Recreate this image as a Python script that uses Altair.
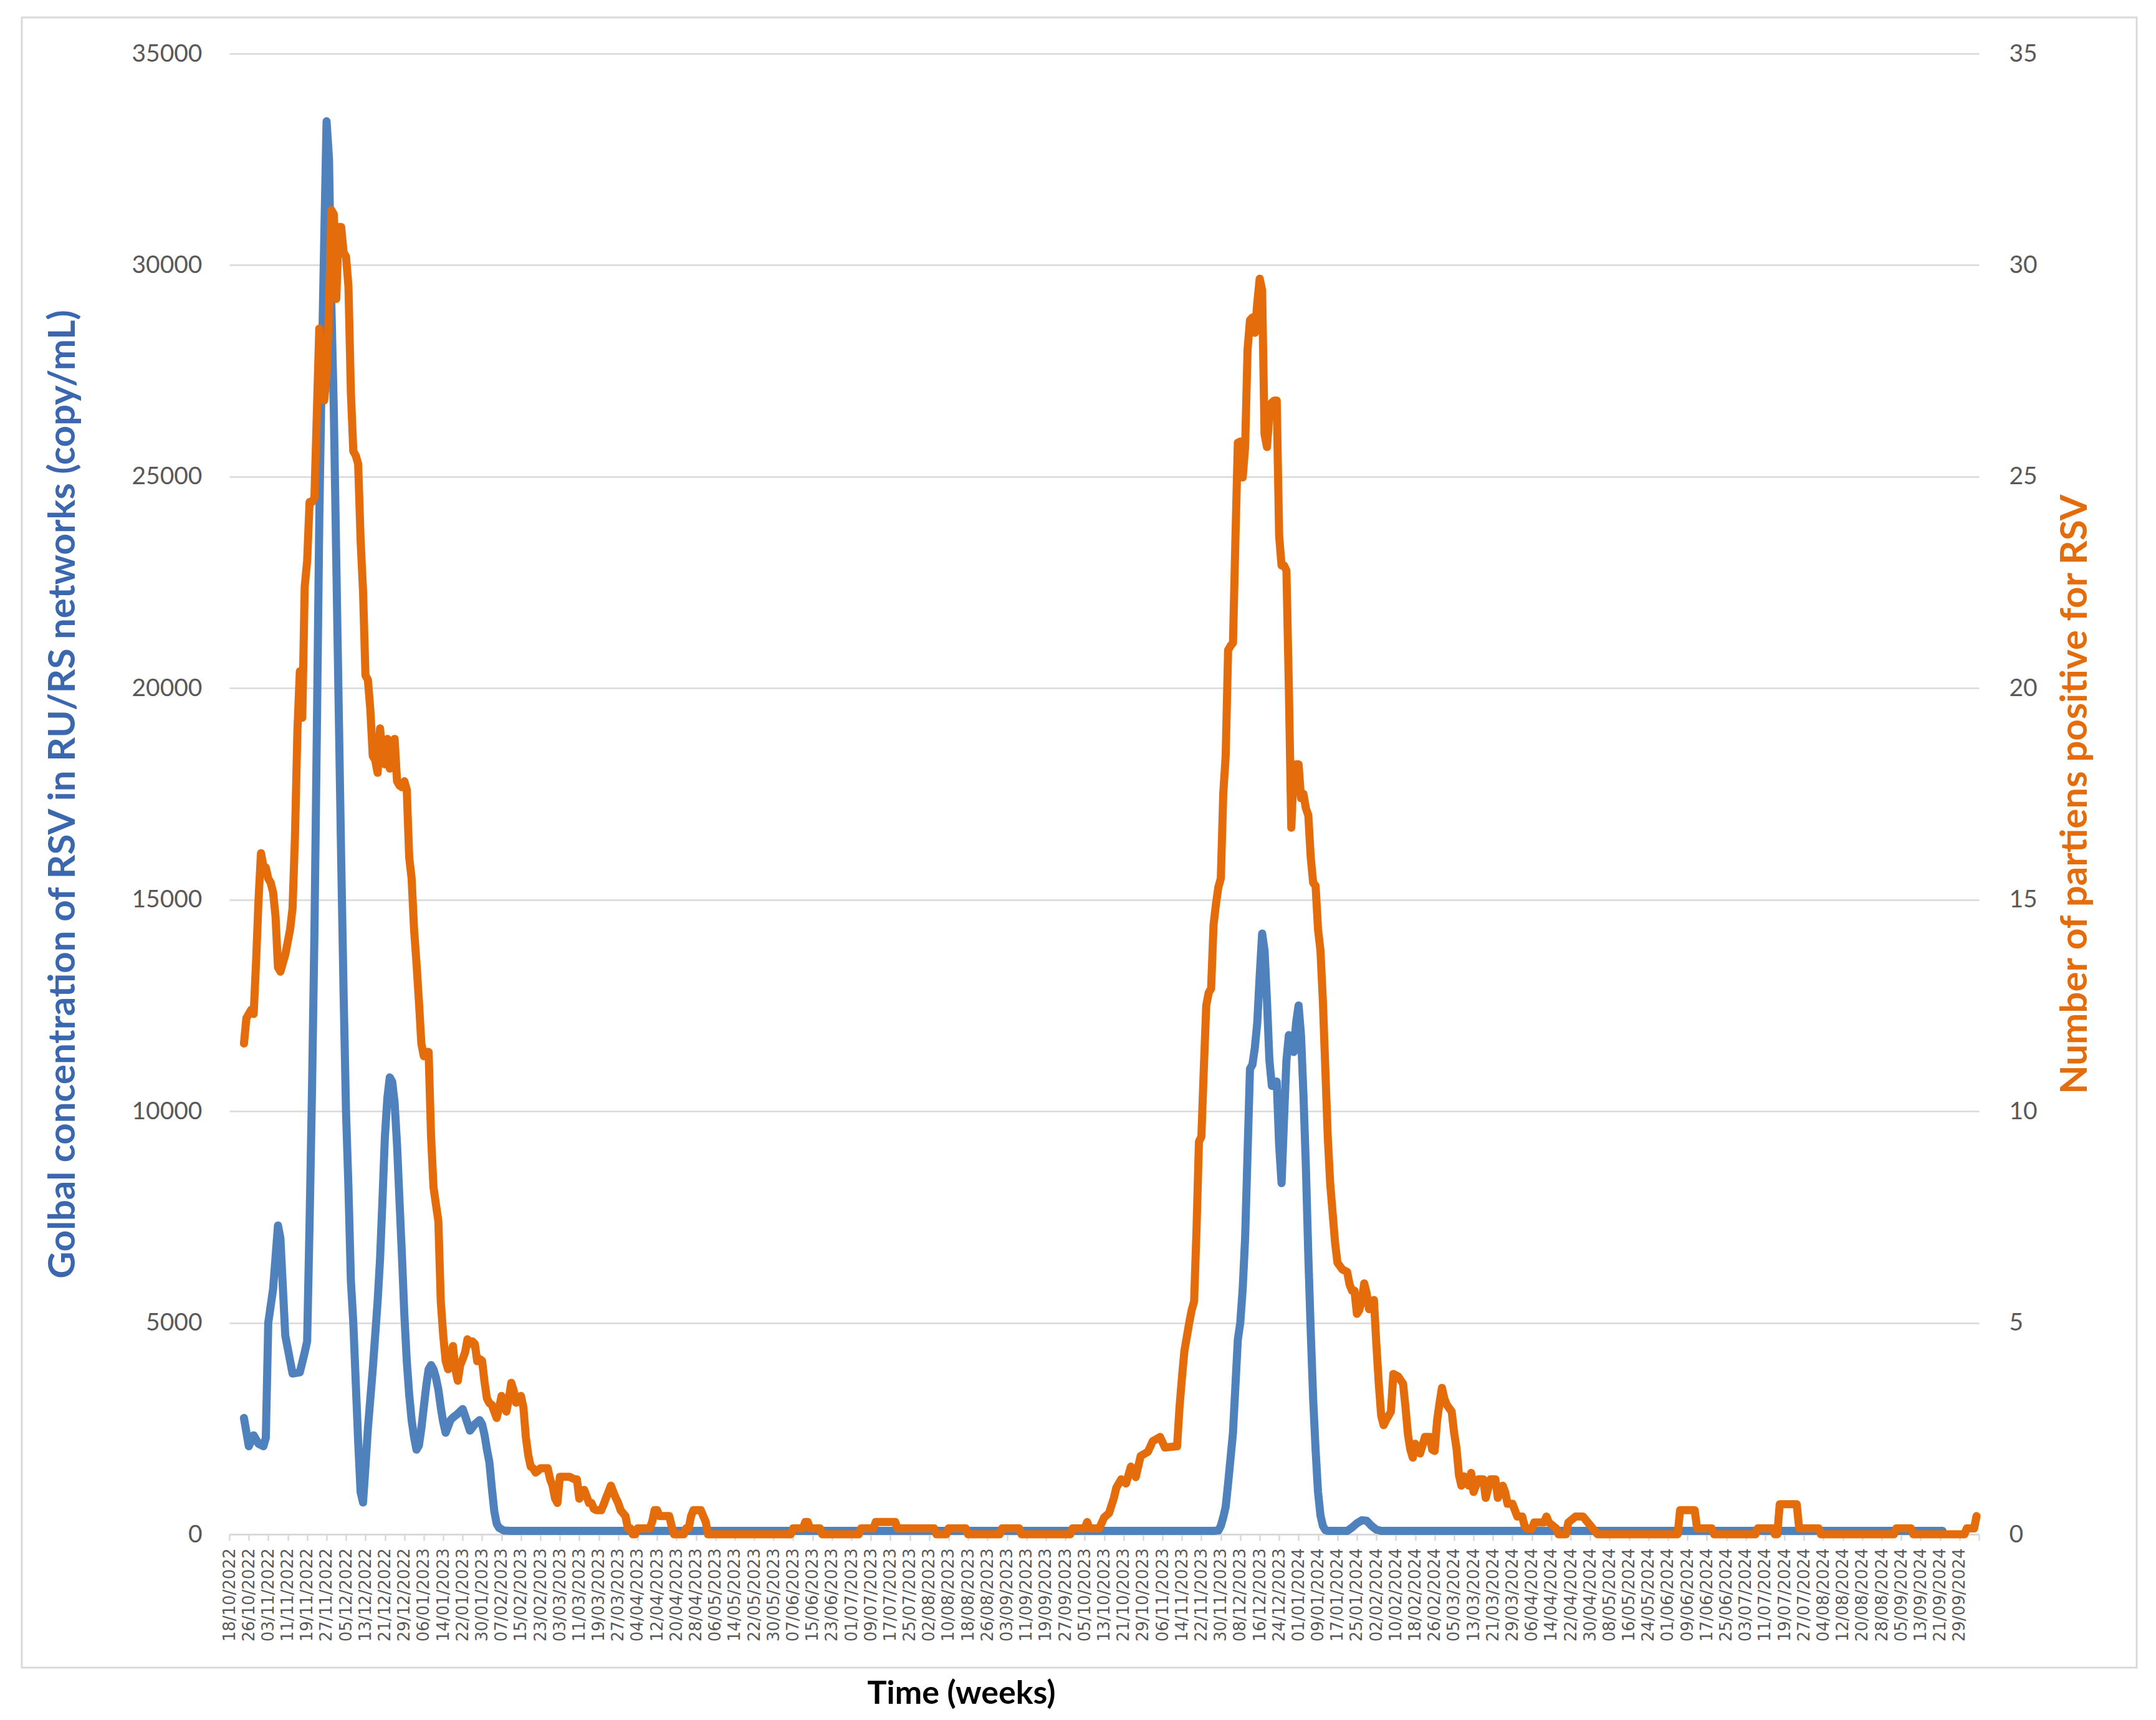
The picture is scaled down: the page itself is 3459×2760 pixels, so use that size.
import altair as alt
import pandas as pd
from datetime import datetime, timedelta, timezone

START = datetime(2022, 10, 18, tzinfo=timezone.utc)

# Blue series: global RSV concentration (copy/mL), day offset from 18/10/2022
blue_day = [6, 8, 10, 12, 14, 15, 16, 18, 20, 21, 23, 26, 29, 31, 32, 33, 34, 35, 36, 37,
            38, 39, 40, 41, 42, 43, 44, 45, 46, 47, 48, 49, 50, 51, 52, 53, 54, 55, 56, 57,
            58, 59, 60, 61, 62, 63, 64, 65, 66, 67, 68, 69, 70, 71, 72, 73, 74, 75, 76, 77,
            78, 79, 80, 81, 82, 83, 84, 85, 86, 87, 88, 89, 90, 91, 92, 94, 96, 97, 99, 101,
            103, 104, 105, 106, 107, 108, 109, 110, 111, 113, 116,
            405, 407, 408, 409, 410, 411, 412, 413, 414, 415, 416, 417, 418, 419, 420, 421,
            422, 423, 424, 425, 426, 427, 428, 429, 430, 431, 432, 433, 434, 435, 436, 437,
            438, 439, 440, 441, 442, 443, 444, 445, 446, 447, 448, 449, 450, 451, 452, 460,
            462, 464, 466, 468, 470, 472, 474, 705]
blue_val = [2750, 2080, 2340, 2140, 2080, 2280, 5000, 5800, 7300, 7000, 4700, 3800, 3830, 4300, 4560, 7350, 10500, 14200, 19000, 24000,
            27500, 30500, 33400, 32500, 29000, 26500, 23000, 19500, 16000, 12800, 10000, 8200, 6000, 5000, 3600, 2200, 1000, 750, 1600, 2500,
            3200, 3900, 4700, 5500, 6500, 7900, 9400, 10300, 10800, 10700, 10200, 9200, 7900, 6600, 5200, 4100, 3300, 2700, 2300, 2000,
            2100, 2500, 3000, 3500, 3900, 4000, 3900, 3700, 3420, 3000, 2650, 2400, 2550, 2700, 2760, 2850, 2960, 2800, 2450, 2600,
            2700, 2600, 2350, 2000, 1700, 1100, 550, 250, 150, 90, 80,
            80, 90, 200, 400, 650, 1200, 1800, 2400, 3500, 4600, 5000, 5800, 7000, 9000, 11000, 11100,
            11500, 12100, 13200, 14200, 13800, 12600, 11200, 10600, 10600, 10700, 9200, 8300, 9800, 11200, 11800, 11500,
            11400, 12100, 12500, 11800, 10400, 8700, 6600, 4800, 3200, 2000, 1000, 450, 200, 100, 80, 80,
            160, 260, 330, 320, 200, 110, 80, 80]

# Orange series: number of patients positive for RSV
orange_day = [6, 7, 9, 10, 11, 12, 13, 14, 15, 16, 17, 18, 19, 20, 21, 22, 23, 24, 25, 26,
              27, 28, 29, 30, 31, 32, 33, 34, 35, 36, 37, 38, 39, 40, 41, 42, 43, 44, 45, 46,
              47, 48, 49, 50, 51, 52, 53, 54, 55, 56, 57, 58, 59, 60, 61, 62, 63, 64, 65, 66,
              67, 68, 69, 70, 71, 72, 73, 74, 75, 76, 77, 78, 79, 80, 81, 82, 83, 84, 85, 86,
              87, 88, 89, 90, 91, 92, 93, 94, 95, 96, 97, 98, 99, 100, 101, 102, 103, 104, 105, 106,
              107, 108, 109, 110, 111, 112, 113, 114, 115, 116, 117, 118, 119, 120, 121, 122, 123, 124, 125, 126,
              127, 128, 131, 132, 133, 134, 135, 136, 140, 142, 143, 144, 145, 146, 147, 148, 149, 150, 151, 153,
              154, 155, 156, 157, 158, 159, 160, 161, 162, 163, 164, 165, 166, 167, 168, 173, 174, 175, 176, 177,
              181, 182, 183, 187, 188, 189, 190, 191, 194, 195, 196, 197, 231, 232, 236, 237, 238, 239, 243, 244,
              259, 260, 265, 266, 274, 275, 290, 291, 295, 296, 303, 304, 317, 318, 325, 326, 346, 347, 352, 353,
              354, 358, 360, 362, 364, 365, 367, 369, 371, 373, 375, 378, 380, 383, 385, 390, 391, 392, 393, 395,
              396, 397, 398, 399, 400, 401, 402, 403, 404, 405, 406, 407, 408, 409, 410, 411, 412, 413, 414, 415,
              416, 417, 418, 419, 420, 421, 422, 423, 424, 425, 426, 427, 428, 429, 430, 431, 432, 433, 434, 435,
              436, 437, 438, 439, 440, 441, 442, 443, 444, 445, 446, 447, 448, 449, 450, 451, 452, 453, 454, 455,
              456, 458, 460, 461, 462, 463, 464, 465, 466, 467, 468, 469, 470, 471, 472, 473, 474, 475, 476, 477,
              478, 479, 481, 483, 484, 485, 486, 487, 488, 490, 491, 492, 494, 495, 496, 497, 498, 499, 500, 501,
              503, 504, 505, 506, 507, 508, 509, 510, 511, 512, 514, 516, 517, 519, 521, 522, 524, 525, 526, 528,
              530, 532, 533, 534, 536, 537, 541, 542, 543, 546, 547, 550, 551, 554, 557, 559, 561, 563, 596, 597,
              603, 604, 610, 611, 628, 629, 635, 636, 637, 638, 645, 646, 654, 655, 685, 686, 692, 693, 714, 715,
              718, 719]
orange_val = [11.6, 12.2, 12.4, 12.3, 13.55, 15.0, 16.1, 15.8, 15.76, 15.5, 15.4, 15.17, 14.6, 13.4, 13.3, 13.5, 13.7, 14.0, 14.3, 14.8,
              16.5, 19.0, 20.4, 19.3, 22.4, 23.0, 24.4, 24.4, 24.5, 26.5, 28.5, 27.0, 26.8, 27.4, 29.0, 31.3, 31.2, 29.2, 30.9, 30.9,
              30.3, 30.2, 29.5, 27.0, 25.6, 25.5, 25.3, 23.5, 22.3, 20.3, 20.2, 19.5, 18.4, 18.3, 18.0, 19.05, 18.4, 18.2, 18.8, 18.1,
              18.5, 18.8, 17.8, 17.7, 17.66, 17.8, 17.6, 16.0, 15.5, 14.3, 13.5, 12.6, 11.6, 11.3, 11.4, 11.4, 9.4, 8.2, 7.8, 7.4,
              5.5, 4.7, 4.1, 3.9, 4.2, 4.45, 3.9, 3.63, 4.0, 4.14, 4.3, 4.61, 4.5, 4.56, 4.5, 4.09, 4.14, 4.1, 3.6, 3.21,
              3.1, 3.06, 2.9, 2.75, 3.0, 3.27, 3.1, 2.9, 3.2, 3.58, 3.4, 3.11, 3.2, 3.27, 3.0, 2.3, 1.87, 1.6, 1.56, 1.46,
              1.5, 1.56, 1.56, 1.3, 1.15, 0.85, 0.74, 1.36, 1.36, 1.3, 1.3, 0.84, 0.95, 1.05, 0.9, 0.74, 0.74, 0.6, 0.57, 0.57,
              0.7, 0.86, 1.0, 1.15, 1.0, 0.86, 0.74, 0.57, 0.5, 0.43, 0.14, 0.14, 0, 0, 0.14, 0.14, 0.3, 0.57, 0.57, 0.43,
              0.43, 0.2, 0, 0, 0.14, 0.14, 0.43, 0.57, 0.57, 0.43, 0.3, 0, 0, 0.14, 0.14, 0.29, 0.29, 0.14, 0.14, 0,
              0, 0.14, 0.14, 0.29, 0.29, 0.14, 0.14, 0, 0, 0.14, 0.14, 0, 0, 0.14, 0.14, 0, 0, 0.14, 0.14, 0.29,
              0.14, 0.14, 0.4, 0.5, 0.86, 1.1, 1.3, 1.2, 1.6, 1.35, 1.85, 1.95, 2.2, 2.3, 2.05, 2.08, 3.0, 3.7, 4.33, 5.0,
              5.3, 5.5, 7.2, 9.28, 9.4, 11.0, 12.5, 12.8, 12.9, 14.4, 14.9, 15.3, 15.5, 17.5, 18.4, 20.9, 21.0, 21.07, 23.5, 25.8,
              25.83, 24.98, 25.7, 28.0, 28.7, 28.76, 28.4, 29.1, 29.68, 29.4, 26.0, 25.7, 26.5, 26.75, 26.8, 26.8, 23.6, 22.9, 22.9, 22.78,
              20.0, 16.7, 18.1, 18.2, 18.2, 17.4, 17.5, 17.16, 17.0, 16.0, 15.4, 15.33, 14.3, 13.8, 12.6, 11.0, 9.4, 8.3, 7.6, 6.9,
              6.42, 6.26, 6.2, 5.9, 5.76, 5.76, 5.21, 5.3, 5.54, 5.93, 5.7, 5.32, 5.4, 5.54, 4.5, 3.56, 2.8, 2.58, 2.7, 2.8,
              2.9, 3.79, 3.73, 3.56, 3.0, 2.36, 2.0, 1.81, 2.14, 1.91, 2.1, 2.3, 2.3, 2.0, 1.97, 2.69, 3.1, 3.46, 3.2, 3.06,
              2.9, 2.4, 2.03, 1.4, 1.15, 1.37, 1.3, 1.15, 1.45, 1.0, 1.3, 1.3, 0.86, 1.3, 1.3, 0.86, 1.15, 1.0, 0.72, 0.72,
              0.42, 0.42, 0.2, 0.13, 0.13, 0.28, 0.28, 0.42, 0.28, 0.14, 0, 0, 0.28, 0.42, 0.42, 0.28, 0.14, 0, 0, 0.57,
              0.57, 0.14, 0.14, 0, 0, 0.14, 0.14, 0, 0, 0.71, 0.71, 0.14, 0.14, 0, 0, 0.14, 0.14, 0, 0, 0.14,
              0.14, 0.43]

TICK_DAYS = list(range(0, 721, 8))
LEFT_TICKS = [0, 5000, 10000, 15000, 20000, 25000, 30000, 35000]
RIGHT_TICKS = [0, 5, 10, 15, 20, 25, 30, 35]


def ts(d):
    return int((START + timedelta(days=d)).timestamp() * 1000)


blue_df = pd.DataFrame({"date": [ts(d) for d in blue_day], "value": blue_val})
orange_df = pd.DataFrame({"date": [ts(d) for d in orange_day], "value": orange_val})

W, H = 2807, 2376
BLUE = "#4F81BD"
ORANGE = "#E46C0A"
GRID = "#D9D9D9"
LABEL = "#595959"

last_label = ts(712)
x_axis = alt.Axis(
    values=[ts(d) for d in TICK_DAYS],
    labelExpr=f"datum.value > {last_label} ? '' : utcFormat(datum.value, '%d/%m/%Y')",
    labelAngle=270, labelAlign="right", labelBaseline="middle",
    labelFont="DejaVu Sans", labelFontSize=26, labelColor=LABEL, labelPadding=12,
    labelOverlap=False, labelFlush=False, labelBound=False,
    ticks=True, tickSize=10, tickColor=GRID, tickWidth=2.5,
    domainColor=GRID, domainWidth=3, grid=False,
    title="Time (weeks)", titleFont="Lato", titleFontSize=52, titleFontWeight="bold",
    titleColor="#000000", titleX=1174, titleY=255, titleAlign="center", titleBaseline="middle",
)
x_enc = alt.X("date:T", axis=x_axis,
              scale=alt.Scale(type="utc", domain=[ts(0), ts(720)], nice=False))

blue = alt.Chart(blue_df).mark_line(
    color=BLUE, strokeWidth=13, strokeJoin="round", strokeCap="round"
).encode(
    x=x_enc,
    y=alt.Y("value:Q", scale=alt.Scale(domain=[0, 35000], nice=False),
            axis=alt.Axis(orient="left", values=LEFT_TICKS, format="d", domain=False, ticks=False,
                          grid=True, gridColor=GRID, gridWidth=2.5,
                          labelFont="Lato", labelFontSize=39, labelColor=LABEL, labelPadding=44,
                          title="Golbal concentration of RSV in RU/RS networks (copy/mL)",
                          titleFont="Lato", titleFontSize=60, titleFontWeight="bold",
                          titleColor="#3A67AE", titleAngle=270, titleX=-267, titleY=1188,
                          titleAlign="center", titleBaseline="middle")),
)

orange = alt.Chart(orange_df).mark_line(
    color=ORANGE, strokeWidth=13, strokeJoin="round", strokeCap="round"
).encode(
    x=x_enc,
    y=alt.Y("value:Q", scale=alt.Scale(domain=[0, 35], nice=False),
            axis=alt.Axis(orient="right", values=RIGHT_TICKS, format="d", domain=False, ticks=False,
                          grid=False,
                          labelFont="Lato", labelFontSize=39, labelColor=LABEL, labelPadding=48,
                          title="Number of partiens positive for RSV",
                          titleFont="Lato", titleFontSize=60, titleFontWeight="bold",
                          titleColor=ORANGE, titleAngle=270, titleX=154, titleY=1188,
                          titleAlign="center", titleBaseline="middle")),
)

frame = alt.Chart(pd.DataFrame({"k": [0]})).mark_rect(
    fillOpacity=0, stroke=GRID, strokeWidth=3
).encode(x=alt.value(-333), x2=alt.value(3060), y=alt.value(-58), y2=alt.value(2590))

chart = alt.layer(frame, blue, orange).resolve_scale(y="independent").properties(
    width=W, height=H,
    padding={"left": 25, "top": 18, "right": 0, "bottom": 0},
    background="#FFFFFF",
).configure_view(strokeWidth=0)

chart.save("out.html", embed_options={"renderer": "svg", "actions": False})
